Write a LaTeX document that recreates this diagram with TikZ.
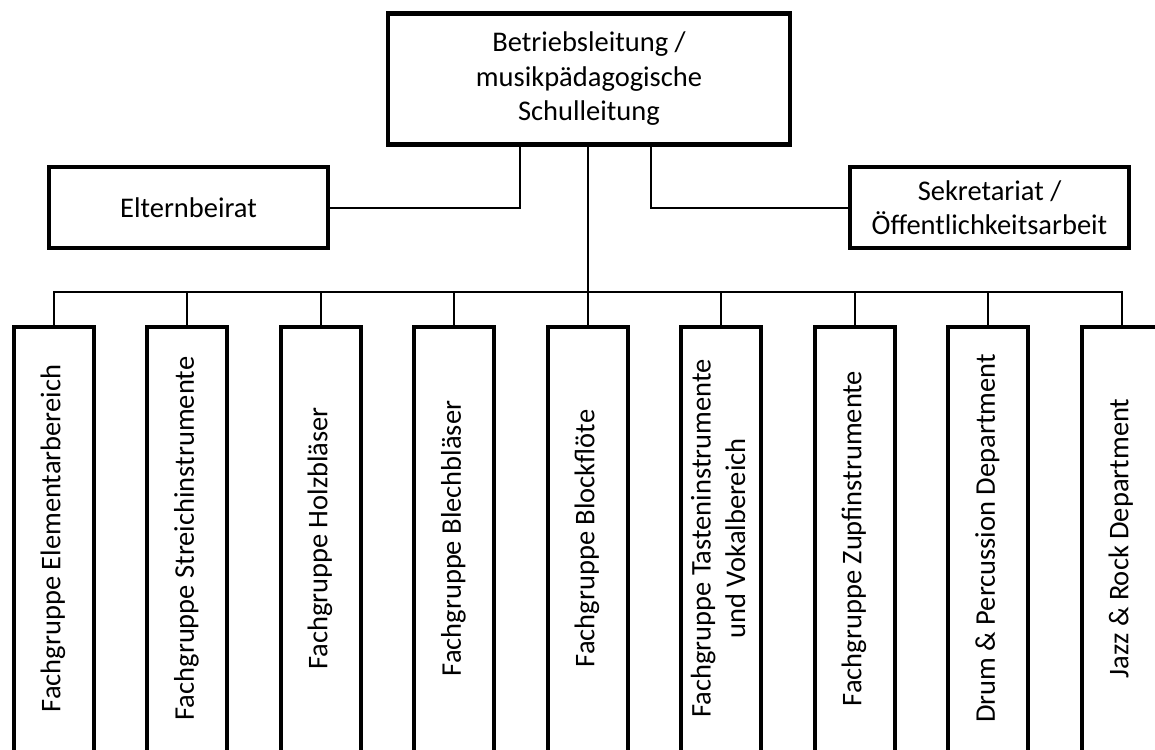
\documentclass[tikz,border=0pt]{standalone}
\usepackage{fontspec}
\setmainfont{Carlito}
\usepackage{graphicx}
\usetikzlibrary{positioning}
\tikzstyle{box} = [rectangle, draw, line width=4.5pt, align=center, inner sep=0pt, font=\fontsize{28.5}{34.5}\selectfont]
\tikzstyle{fgbox} = [box, line width=4pt, minimum width=80pt, minimum height=432pt, text depth=9pt]
\tikzstyle{link} = [line width=2pt]
\newcommand{\vtext}[1]{\rotatebox{90}{\begin{tabular}{@{}c@{}}#1\end{tabular}}}

\begin{document}
\begin{tikzpicture}[x=1pt, y=1pt, node distance=133.5pt]
            \path [use as bounding box, clip] (0,0) rectangle (1155,-749);

            \node (leitung)     [box, minimum width=402pt, minimum height=131pt] at (589,-79) {Betriebsleitung /\\musikpädagogische\\Schulleitung};
            \node (eltern)      [box, minimum width=279pt, minimum height=81pt] at (188.5,-207.5) {Elternbeirat};
            \node (sekretariat) [box, minimum width=279pt, minimum height=81pt] at (989.5,-207.5) {Sekretariat /\\Öffentlichkeitsarbeit};

            \node (fg1) [fgbox] at (53.5,-543) {\vtext{Fachgruppe Elementarbereich}};
            \node (fg2) [fgbox, right of=fg1] {\vtext{Fachgruppe Streichinstrumente}};
            \node (fg3) [fgbox, right of=fg2] {\vtext{Fachgruppe Holzbläser}};
            \node (fg4) [fgbox, right of=fg3] {\vtext{Fachgruppe Blechbläser}};
            \node (fg5) [fgbox, right of=fg4] {\vtext{Fachgruppe Blockflöte}};
            \node (fg6) [fgbox, right of=fg5] {\vtext{Fachgruppe Tasteninstrumente\\und Vokalbereich}};
            \node (fg7) [fgbox, right of=fg6] {\vtext{Fachgruppe Zupfinstrumente}};
            \node (fg8) [fgbox, right of=fg7] {\vtext{Drum \& Percussion Department}};
            \node (fg9) [fgbox, right of=fg8] {\vtext{Jazz \& Rock Department}};

            \coordinate (bus) at (0,-292);

            \draw [link] (eltern.east)      -| ([xshift=-69pt]leitung.south);
            \draw [link] (sekretariat.west) -| ([xshift=62pt]leitung.south);
            \draw [link] (leitung.south -| fg5.north) -- (fg5.north);
            \draw [link] (fg1.north) |- (fg9.north |- bus) -- (fg9.north);
            \foreach \i in {2,...,8}
                \draw [link] (fg\i.north) -- (fg\i.north |- bus);
        \end{tikzpicture}
\end{document}
